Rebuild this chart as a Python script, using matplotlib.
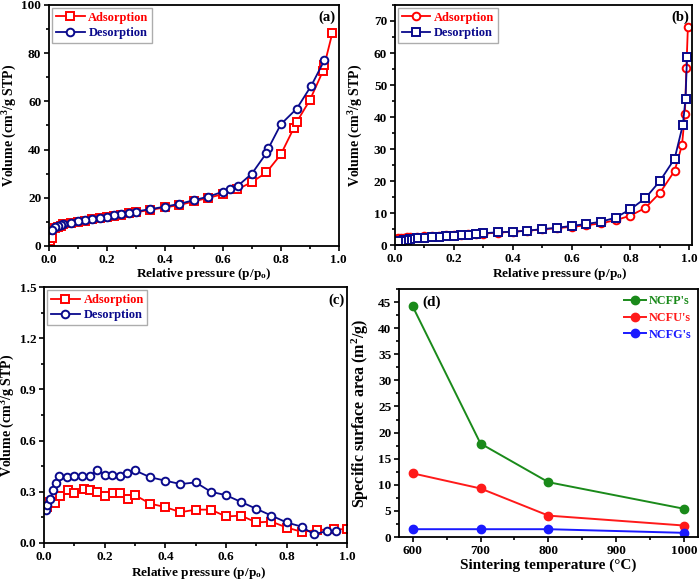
import matplotlib
matplotlib.use('Agg')
import matplotlib.pyplot as plt
from matplotlib.ticker import AutoMinorLocator

plt.rcParams['font.family'] = 'Liberation Serif'
plt.rcParams['font.weight'] = 'bold'
plt.rcParams['axes.labelweight'] = 'bold'
plt.rcParams['mathtext.fontset'] = 'custom'
plt.rcParams['mathtext.rm'] = 'Liberation Serif:bold'
plt.rcParams['mathtext.bf'] = 'Liberation Serif:bold'
plt.rcParams['mathtext.default'] = 'bf'

RED = '#ff0000'
NAVY = '#0a0a8c'

# (a)
a_ads_x = [0.005, 0.01, 0.02, 0.03, 0.04, 0.05, 0.075, 0.1, 0.125, 0.15, 0.175, 0.2, 0.225, 0.25,
           0.275, 0.3, 0.35, 0.4, 0.45, 0.5, 0.55, 0.6, 0.65, 0.7, 0.75, 0.8, 0.845, 0.855, 0.9,
           0.945, 0.95, 0.978]
a_ads_y = [2.0, 3.5, 7.5, 8.0, 8.5, 9.0, 9.5, 10.0, 10.5, 11.0, 11.5, 12.0, 12.5, 13.0,
           13.5, 14.0, 15.0, 16.0, 17.0, 18.5, 20.0, 21.5, 23.5, 26.5, 30.5, 38.0, 49.0, 51.5, 60.5,
           72.5, 75.0, 88.5]
a_des_x = [0.95, 0.905, 0.855, 0.8, 0.757, 0.75, 0.7, 0.652, 0.625, 0.6, 0.55, 0.5, 0.45, 0.4,
           0.35, 0.3, 0.275, 0.25, 0.225, 0.2, 0.175, 0.15, 0.125, 0.1, 0.075, 0.05, 0.04, 0.03,
           0.02, 0.01]
a_des_y = [77.0, 66.5, 57.0, 50.5, 40.5, 38.5, 30.0, 25.0, 23.5, 22.5, 20.5, 19.0, 17.5, 16.3,
           15.3, 14.3, 13.8, 13.2, 12.7, 12.2, 11.7, 11.2, 10.7, 10.2, 9.6, 9.0, 8.7, 8.3,
           7.8, 6.8]

# (b)
b_ads_x = [0.005, 0.01, 0.02, 0.03, 0.04, 0.05, 0.075, 0.1, 0.125, 0.15, 0.175, 0.2, 0.225, 0.25,
           0.275, 0.3, 0.35, 0.4, 0.45, 0.5, 0.55, 0.6, 0.65, 0.7, 0.75, 0.8, 0.85, 0.9, 0.95,
           0.975, 0.985, 0.99, 0.995]
b_ads_y = [2.0, 2.1, 2.2, 2.3, 2.4, 2.5, 2.6, 2.8, 2.9, 3.0, 3.1, 3.2, 3.3, 3.4,
           3.5, 3.6, 3.9, 4.2, 4.5, 4.9, 5.3, 5.7, 6.2, 6.8, 7.8, 9.2, 11.6, 16.3, 23.2,
           31.2, 41.1, 55.4, 68.0]
b_des_x = [0.992, 0.987, 0.978, 0.95, 0.9, 0.85, 0.8, 0.75, 0.7, 0.65, 0.6, 0.55, 0.5, 0.45,
           0.4, 0.35, 0.3, 0.275, 0.25, 0.225, 0.2, 0.175, 0.15, 0.125, 0.1, 0.075, 0.05, 0.04,
           0.03, 0.02, 0.01]
b_des_y = [58.6, 45.7, 37.6, 27.0, 20.0, 14.6, 11.2, 8.6, 7.3, 6.6, 6.0, 5.4, 5.0, 4.5,
           4.2, 4.0, 3.7, 3.5, 3.3, 3.1, 3.0, 2.8, 2.6, 2.5, 2.3, 2.1, 1.8, 1.6,
           1.5, 1.3, 1.2]

# (c)
c_ads_x = [0.01, 0.02, 0.036, 0.053, 0.08, 0.1, 0.13, 0.15, 0.176, 0.2, 0.227, 0.25, 0.277, 0.3,
           0.35, 0.4, 0.45, 0.5, 0.55, 0.6, 0.65, 0.7, 0.75, 0.8, 0.85, 0.9, 0.955, 1.0]
c_ads_y = [0.21, 0.24, 0.235, 0.275, 0.31, 0.29, 0.315, 0.31, 0.30, 0.275, 0.29, 0.295, 0.26, 0.28,
           0.23, 0.21, 0.18, 0.195, 0.195, 0.155, 0.16, 0.12, 0.125, 0.09, 0.065, 0.075, 0.08, 0.08]
c_des_x = [0.005, 0.01, 0.02, 0.03, 0.04, 0.05, 0.075, 0.1, 0.125, 0.15, 0.175, 0.2, 0.225, 0.25,
           0.275, 0.3, 0.35, 0.4, 0.45, 0.5, 0.55, 0.6, 0.65, 0.7, 0.75, 0.8, 0.85, 0.89, 0.935,
           0.962]
c_des_y = [0.19, 0.22, 0.255, 0.31, 0.35, 0.39, 0.385, 0.39, 0.39, 0.39, 0.43, 0.40, 0.40, 0.39,
           0.41, 0.425, 0.385, 0.365, 0.345, 0.355, 0.30, 0.28, 0.24, 0.20, 0.16, 0.12, 0.095, 0.05, 0.07,
           0.07]

# (d)
temps = [600, 700, 800, 1000]
ncfp = [44.2, 17.9, 10.5, 5.4]
ncfu = [12.2, 9.3, 4.1, 2.2]
ncfg = [1.5, 1.5, 1.5, 0.8]

xlab = r'Relative pressure (p/p$_\mathbf{o}$)'
ylab = r'Volume (cm$^\mathbf{3}$/g STP)'


def style(ax):
    ax.tick_params(which='both', direction='out', labelsize=9.5, width=1.2, pad=2)
    ax.tick_params(which='major', length=3.5)
    ax.tick_params(which='minor', length=2)
    ax.xaxis.set_minor_locator(AutoMinorLocator(2))
    ax.yaxis.set_minor_locator(AutoMinorLocator(2))
    for s in ax.spines.values():
        s.set_linewidth(1.3)
    for t in ax.get_xticklabels() + ax.get_yticklabels():
        t.set_fontweight('bold')


def isotherm(ax, ads, des, mk_ads, mk_des, tag, ylim, yticks, xlim, ylx, xlx):
    ax.plot(ads[0], ads[1], color=RED, marker=mk_ads, ms=5.5, mfc='white', mew=1.4, lw=1.3,
            label='Adsorption')
    ax.plot(des[0], des[1], color=NAVY, marker=mk_des, ms=5.5, mfc='white', mew=1.4, lw=1.3,
            label='Desorption')
    ax.set_xlim(*xlim)
    ax.set_ylim(*ylim)
    ax.set_yticks(yticks)
    ax.set_xticks([0.0, 0.2, 0.4, 0.6, 0.8, 1.0])
    ax.set_xlabel(xlab, fontsize=9.5, labelpad=1)
    ax.xaxis.set_label_coords(xlx, -0.085)
    ax.set_ylabel(ylab, fontsize=10)
    ax.yaxis.set_label_coords(ylx, 0.5)
    leg = ax.legend(loc='upper left', handlelength=2.3, borderaxespad=0.25,
                    handletextpad=0.3, borderpad=0.3, labelspacing=0.25, fancybox=False,
                    edgecolor='#999999', prop={'weight': 'bold', 'size': 9})
    for t, c in zip(leg.get_texts(), [RED, NAVY]):
        t.set_color(c)
    ax.text(0.99, 0.975, tag, transform=ax.transAxes, ha='right', va='top', fontsize=10.5,
            fontweight='bold')
    style(ax)


fig = plt.figure(figsize=(7.0, 5.85), dpi=100)
ax_a = fig.add_axes([0.070, 0.5795, 0.414, 0.412])
ax_b = fig.add_axes([0.564, 0.581, 0.425, 0.4105])
ax_c = fig.add_axes([0.063, 0.072, 0.433, 0.437])
ax_d = fig.add_axes([0.570, 0.082, 0.427, 0.424])

isotherm(ax_a, (a_ads_x, a_ads_y), (a_des_x, a_des_y), 's', 'o', '(a)',
         (0, 100), [0, 20, 40, 60, 80, 100], (0, 1.0), -0.105, 0.535)
isotherm(ax_b, (b_ads_x, b_ads_y), (b_des_x, b_des_y), 'o', 's', '(b)',
         (0, 75), [0, 10, 20, 30, 40, 50, 60, 70], (0, 1.01), -0.10, 0.555)
isotherm(ax_c, (c_ads_x, c_ads_y), (c_des_x, c_des_y), 's', 'o', '(c)',
         (0, 1.5), [0.0, 0.3, 0.6, 0.9, 1.2, 1.5], (0, 1.0), -0.088, 0.51)

for vals, col, name in [(ncfp, '#1a8a1a', "NCFP's"), (ncfu, '#ff1a1a', "NCFU's"),
                        (ncfg, '#1a1aff', "NCFG's")]:
    ax_d.plot(temps, vals, color=col, marker='o', ms=6, mec=col, mfc=col, lw=1.4, label=name)
ax_d.set_xlim(580, 1020)
ax_d.set_ylim(0, 47.5)
ax_d.set_xticks([600, 700, 800, 900, 1000])
ax_d.set_yticks(range(0, 46, 5))
ax_d.set_xlabel('Sintering temperature (°C)', fontsize=11, labelpad=1)
ax_d.set_ylabel(r'Specific surface area (m$^\mathbf{2}$/g)', fontsize=11.5)
ax_d.yaxis.set_label_coords(-0.095, 0.5)
leg = ax_d.legend(loc='upper right', frameon=False, handlelength=1.8, borderaxespad=0.1,
                  handletextpad=0.3, labelspacing=0.4, prop={'weight': 'bold', 'size': 8.7})
for t, c in zip(leg.get_texts(), ['#1a8a1a', '#ff1a1a', '#1a1aff']):
    t.set_color(c)
ax_d.text(0.077, 0.975, '(d)', transform=ax_d.transAxes, ha='left', va='top', fontsize=11,
          fontweight='bold')
style(ax_d)

fig.savefig('out.png', dpi=100)
